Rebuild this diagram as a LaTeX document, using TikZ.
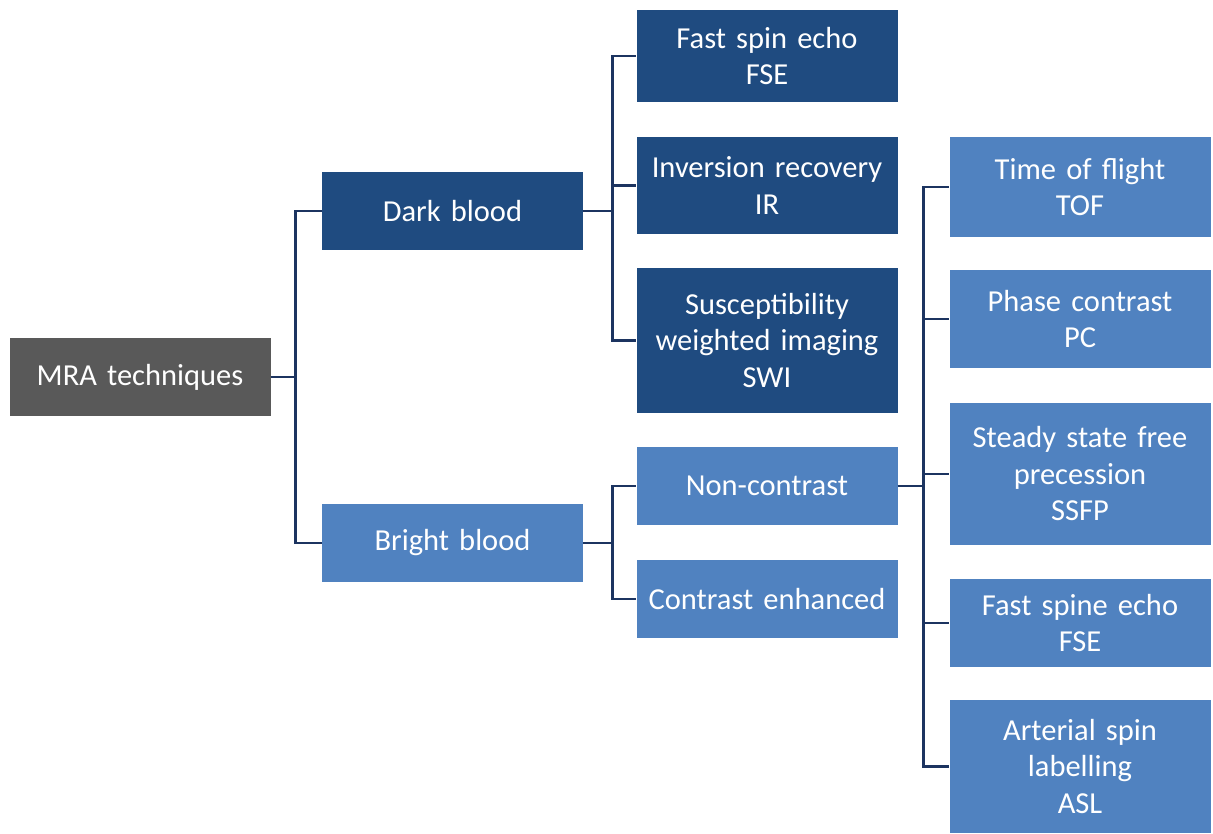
\documentclass[tikz,border=0pt]{standalone}
\usepackage{fontspec}
\setmainfont{Carlito}
\definecolor{darkb}{RGB}{31,75,128}
\definecolor{lightb}{RGB}{80,130,192}
\definecolor{grayb}{RGB}{89,89,89}
\definecolor{linec}{RGB}{28,52,96}
\begin{document}
\begin{tikzpicture}[x=1pt,y=-1pt,
  box/.style={minimum width=261pt, inner sep=0pt, text=white, align=center,
    font=\fontsize{30.5}{36.5}\selectfont, text width=255pt},
  dbox/.style={box, fill=darkb},
  lbox/.style={box, fill=lightb},
  gbox/.style={box, fill=grayb},
  conn/.style={draw=linec, line width=2.6pt}]
\useasboundingbox (0,0) rectangle (1213,833);
\node[gbox, minimum height=78pt] (mra) at (140,377) {MRA techniques};
\node[dbox, minimum height=78pt] (dark) at (452.5,211) {Dark blood};
\node[lbox, minimum height=78pt] (bright) at (452.5,543) {Bright blood};
\node[dbox, minimum height=92pt] (fse) at (767,56) {Fast spin echo\\FSE};
\node[dbox, minimum height=97pt] (ir) at (767,185.5) {Inversion recovery\\IR};
\node[dbox, minimum height=145pt] (swi) at (767,340.5) {Susceptibility\\weighted imaging\\SWI};
\node[lbox, minimum height=78pt] (nc) at (767,486) {Non-contrast};
\node[lbox, minimum height=78pt] (ce) at (767,599) {Contrast enhanced};
\node[lbox, minimum height=100pt] (tof) at (1080,187) {Time of flight\\TOF};
\node[lbox, minimum height=98pt] (pc) at (1080,319) {Phase contrast\\PC};
\node[lbox, minimum height=142pt] (ssfp) at (1080,474) {Steady state free\\precession\\SSFP};
\node[lbox, minimum height=88pt] (fse2) at (1080,623) {Fast spine echo\\FSE};
\node[lbox, minimum height=133pt] (asl) at (1080,766.5) {Arterial spin\\labelling\\ASL};
% connectors
\draw[conn] (mra.east) -- ++(25,0) coordinate (j1) |- (dark.west);
\draw[conn] (j1) |- (bright.west);
\draw[conn] (dark.east) -- ++(29,0) coordinate (j2) |- (fse.west);
\draw[conn] (j2) |- (ir.west);
\draw[conn] (j2) |- (swi.west);
\draw[conn] (bright.east) -- ++(29,0) coordinate (j3) |- (nc.west);
\draw[conn] (j3) |- (ce.west);
\draw[conn] (nc.east) -- ++(26,0) coordinate (j4) |- (tof.west);
\draw[conn] (j4) |- (pc.west);
\draw[conn] (j4) |- (ssfp.west);
\draw[conn] (j4) |- (fse2.west);
\draw[conn] (j4) |- (asl.west);
\end{tikzpicture}
\end{document}
